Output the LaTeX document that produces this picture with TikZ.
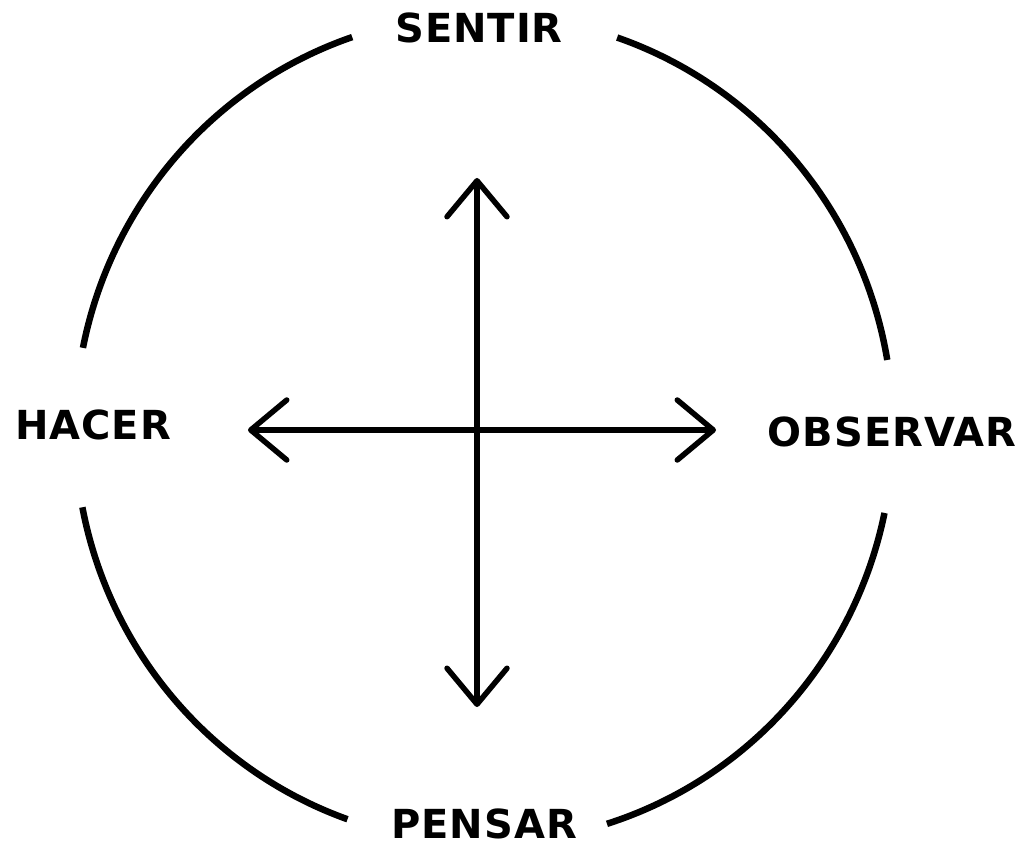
\documentclass[tikz,border=0pt]{standalone}
\usepackage{fontspec}
\setmainfont{DejaVu Sans}[LetterSpace=2.5]
\usetikzlibrary{arrows.meta}
\begin{document}
\begin{tikzpicture}[x=1pt,y=1pt,
  ring/.style={line width=6.5pt},
  axis/.style={line width=5.5pt,line cap=round,{Straight Barb[length=36pt,width=60pt,line join=round,line cap=round]}-{Straight Barb[length=36pt,width=60pt,line join=round,line cap=round]}},
  lab/.style={font=\fontsize{40}{44}\selectfont\bfseries, inner sep=0pt}]
\useasboundingbox (0,0) rectangle (1022,846);
\coordinate (c) at (484,417);
% circle arcs
\draw[ring] ([shift={(9.6:409pt and 414pt)}]c) arc[start angle=9.6, end angle=71, x radius=409pt, y radius=414pt];
\draw[ring] ([shift={(108.8:409pt and 414pt)}]c) arc[start angle=108.8, end angle=168.7, x radius=409pt, y radius=414pt];
\draw[ring] ([shift={(190.9:409pt and 414pt)}]c) arc[start angle=190.9, end angle=250.5, x radius=409pt, y radius=414pt];
\draw[ring] ([shift={(287.5:409pt and 414pt)}]c) arc[start angle=287.5, end angle=348.3, x radius=409pt, y radius=414pt];
% axes
\coordinate (top) at (477,668);
\coordinate (bot) at (477,139);
\coordinate (lft) at (248,416);
\coordinate (rgt) at (716,416);
\draw[axis] (bot) -- (top);
\draw[axis] (lft) -- (rgt);
% labels
\node[lab] (sentir) at (479,818) {SENTIR};
\node[lab] (hacer) at (93,421) {HACER};
\node[lab] (observar) at (892,414) {OBSERVAR};
\node[lab] (pensar) at (484,22) {PENSAR};
\end{tikzpicture}
\end{document}
